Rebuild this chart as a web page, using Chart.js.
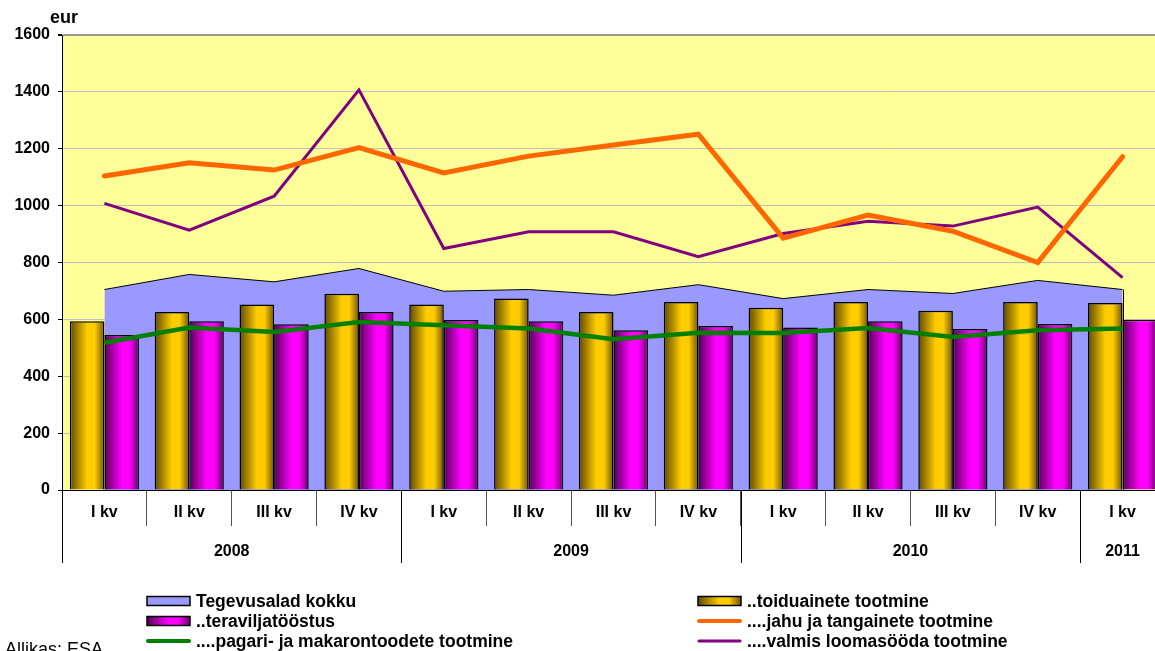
<!DOCTYPE html>
<html><head><meta charset="utf-8">
<script src="https://cdn.jsdelivr.net/npm/chart.js@4.4.1/dist/chart.umd.min.js"></script>
<style>
html,body{margin:0;padding:0;overflow:hidden;background:#fff;width:1155px;height:651px}
canvas{display:block}
</style></head>
<body>
<canvas id="c" width="1165" height="651"></canvas>
<script>
// ---------- data ----------
const categories = ['I kv','II kv','III kv','IV kv','I kv','II kv','III kv','IV kv','I kv','II kv','III kv','IV kv','I kv'];
const yearLabels = ['2008','2009','2010','2011'];
const yearSpans = [4,4,4,1];
const unitLabel = 'eur';
const sourceNote = 'Allikas: ESA';

const tegevusaladKokku   = [705, 758, 732, 779, 699, 705, 685, 722, 673, 705, 691, 737, 705];
const toiduaineteTootmine = [593, 626, 652, 690, 652, 673, 626, 661, 641, 661, 630, 661, 658];
const teraviljatoostus   = [545, 593, 583, 626, 598, 593, 562, 577, 571, 593, 566, 584, 599];
const pagariMakaron      = [518, 571, 556, 591, 579, 568, 530, 553, 552, 570, 538, 562, 568];
const jahuTangained      = [1104, 1151, 1125, 1204, 1115, 1174, 1213, 1251, 886, 967, 910, 800, 1172];
const valmisLoomasoot    = [1008, 914, 1033, 1407, 849, 908, 908, 820, 902, 945, 928, 995, 747];

// ---------- style ----------
const FONT = "'Liberation Sans', Arial, sans-serif";
const CAT_PCT = 0.815;
const GOLD = ['#604a00', '#ffcc00', '#705400'];
const MAG  = ['#560056', '#ff00ff', '#680068'];

function makeGrad(c, x0, w, cols) {
  const g = c.createLinearGradient(x0, 0, x0 + w, 0);
  g.addColorStop(0, cols[0]);
  g.addColorStop(0.5, cols[1]);
  g.addColorStop(0.72, cols[1]);
  g.addColorStop(1, cols[2]);
  return g;
}
function barFill(cols, side) {
  return (ctx) => {
    const xs = ctx.chart.scales && ctx.chart.scales.x;
    if (!xs || ctx.dataIndex === undefined) return cols[1];
    const cw = (xs.right - xs.left) / categories.length;
    const bw = cw * CAT_PCT / 2;
    const c = xs.getPixelForValue(ctx.dataIndex);
    if (!isFinite(cw) || !isFinite(c) || !(bw > 0)) return cols[1];
    const x0 = side < 0 ? c - bw : c;
    return makeGrad(ctx.chart.ctx, x0, bw, cols);
  };
}

const legendLayout = [
  { ds: 0, col: 0, row: 0, kind: 'rect' },
  { ds: 2, col: 0, row: 1, kind: 'rect', grad: MAG },
  { ds: 3, col: 0, row: 2, kind: 'line' },
  { ds: 1, col: 1, row: 0, kind: 'rect', grad: GOLD },
  { ds: 4, col: 1, row: 1, kind: 'line' },
  { ds: 5, col: 1, row: 2, kind: 'line' }
];

const decor = {
  id: 'decor',
  beforeDraw(chart) {
    const { ctx, chartArea: a } = chart;
    ctx.save();
    ctx.fillStyle = '#FFFF99';
    ctx.fillRect(a.left, a.top, a.right - a.left, a.bottom - a.top);
    ctx.restore();
  },
  afterDatasetDraw(chart, args) {
    if (args.index !== 0) return;
    const meta = chart.getDatasetMeta(0);
    const last = meta.data[meta.data.length - 1];
    const y0 = chart.scales.y.getPixelForValue(0);
    const ctx = chart.ctx;
    ctx.save();
    ctx.strokeStyle = '#000'; ctx.lineWidth = 1;
    ctx.beginPath(); ctx.moveTo(Math.round(last.x) + 0.5, last.y); ctx.lineTo(Math.round(last.x) + 0.5, y0); ctx.stroke();
    ctx.restore();
  },
  afterDraw(chart) {
    const { ctx, chartArea: a } = chart;
    const xs = chart.scales.x;
    const cw = (xs.right - xs.left) / categories.length;
    ctx.save();
    let idx = 0;
    ctx.strokeStyle = '#000'; ctx.lineWidth = 1;
    ctx.fillStyle = '#000';
    ctx.font = 'bold 16px ' + FONT;
    ctx.textAlign = 'center'; ctx.textBaseline = 'alphabetic';
    yearLabels.forEach((yl, i) => {
      const first = idx, lastI = idx + yearSpans[i] - 1;
      const left = xs.getPixelForValue(first) - cw / 2;
      const right = xs.getPixelForValue(lastI) + cw / 2;
      ctx.beginPath(); ctx.moveTo(Math.round(left) + 0.5, a.bottom); ctx.lineTo(Math.round(left) + 0.5, 563); ctx.stroke();
      ctx.fillText(yl, (left + right) / 2, 556);
      idx += yearSpans[i];
    });
    ctx.textAlign = 'left';
    ctx.font = 'bold 18px ' + FONT;
    ctx.fillText(unitLabel, 50, 23);
    ctx.font = '18px ' + FONT;
    ctx.fillText(sourceNote, 5, 655);
    const colX = [147, 698];
    const rowY = [601, 621, 641];
    ctx.font = 'bold 17.5px ' + FONT;
    legendLayout.forEach(it => {
      const ds = chart.data.datasets[it.ds];
      const x = colX[it.col], y = rowY[it.row];
      if (it.kind === 'rect') {
        ctx.fillStyle = it.grad ? makeGrad(ctx, x, 43, it.grad) : ds.backgroundColor;
        ctx.fillRect(x, y - 4.5, 43, 9);
        ctx.strokeStyle = '#000'; ctx.lineWidth = 1.5;
        ctx.strokeRect(x, y - 4.5, 43, 9);
      } else {
        ctx.strokeStyle = ds.borderColor; ctx.lineWidth = Math.min(ds.borderWidth, 4);
        ctx.lineCap = 'round';
        ctx.beginPath(); ctx.moveTo(x + 1, y); ctx.lineTo(x + 42, y); ctx.stroke();
      }
      ctx.fillStyle = '#000';
      ctx.fillText(ds.label, x + 49, y + 6);
    });
    ctx.restore();
  }
};

new Chart(document.getElementById('c'), {
  type: 'bar',
  data: {
    labels: categories,
    datasets: [
      { type: 'line', label: 'Tegevusalad kokku', data: tegevusaladKokku, fill: 'origin',
        backgroundColor: '#9999FF', borderColor: '#000', borderWidth: 1, pointRadius: 0, tension: 0, order: 10 },
      { type: 'bar', label: '..toiduainete tootmine', data: toiduaineteTootmine,
        backgroundColor: barFill(GOLD, -1), borderColor: '#000', borderWidth: 1.5, order: 5 },
      { type: 'bar', label: '..teraviljatööstus', data: teraviljatoostus,
        backgroundColor: barFill(MAG, 1), borderColor: '#000', borderWidth: 1.5, order: 5 },
      { type: 'line', label: '....pagari- ja makarontoodete tootmine', data: pagariMakaron, fill: false,
        borderColor: '#008000', borderWidth: 4.5, pointRadius: 0, tension: 0, order: 2 },
      { type: 'line', label: '....jahu ja tangainete tootmine', data: jahuTangained, fill: false,
        borderColor: '#FF6600', borderWidth: 5, pointRadius: 0, tension: 0, order: 1, borderCapStyle: 'round' },
      { type: 'line', label: '....valmis loomasööda tootmine', data: valmisLoomasoot, fill: false,
        borderColor: '#800080', borderWidth: 3, pointRadius: 0, tension: 0, order: 3 }
    ]
  },
  options: {
    responsive: false,
    animation: false,
    devicePixelRatio: 1,
    layout: { padding: { left: 0, right: 0, top: 35, bottom: 86 } },
    datasets: { bar: { categoryPercentage: CAT_PCT, barPercentage: 1.0 } },
    plugins: { legend: { display: false }, tooltip: { enabled: false } },
    scales: {
      x: {
        offset: true,
        grid: { display: true, drawOnChartArea: false, drawTicks: true, tickLength: 36, offset: true, color: '#555', tickColor: '#555' },
        border: { display: true, color: '#000', width: 1 },
        ticks: { padding: -23, color: '#000', font: { family: FONT, size: 16, weight: 'bold' }, maxRotation: 0, autoSkip: false },
        afterFit(s) { s.height = 75; }
      },
      y: {
        min: 0, max: 1600,
        ticks: { stepSize: 200, padding: 8, color: '#000', font: { family: FONT, size: 16, weight: 'bold' },
                 callback: (v) => String(v) },
        grid: {
          color: (c) => c.tick && c.tick.value === 1600 ? '#999999' : '#C0C0C0',
          lineWidth: (c) => c.tick && c.tick.value === 1600 ? 2 : 1,
          tickColor: '#000', tickLength: 4, drawTicks: true
        },
        border: { display: true, color: '#000', width: 1 },
        afterFit(s) { s.width = 62; }
      }
    }
  },
  plugins: [decor]
});
</script>
</body></html>
